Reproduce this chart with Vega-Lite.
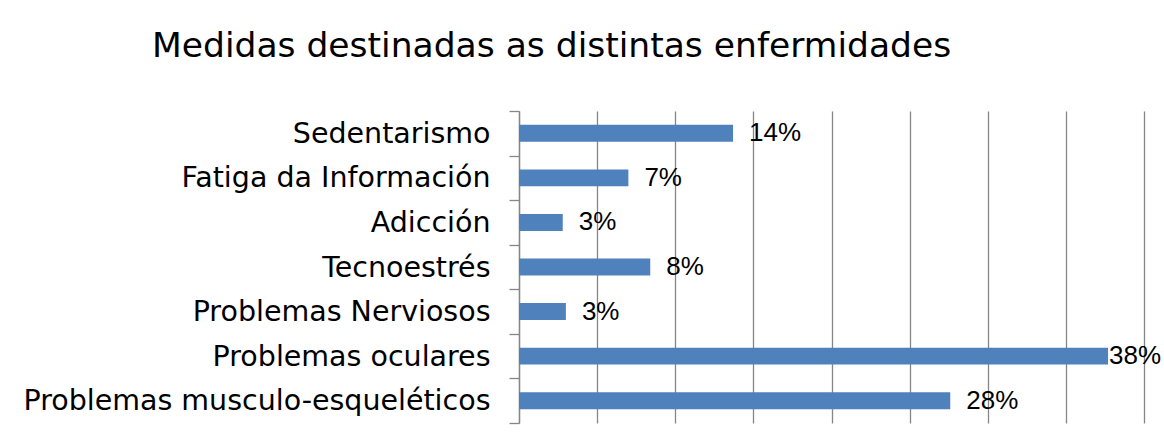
{
  "$schema": "https://vega.github.io/schema/vega-lite/v6.json",
  "autosize": "none",
  "width": 625,
  "height": 312,
  "padding": {"left": 519, "top": 111, "right": 20, "bottom": 20},
  "background": "white",
  "title": {
    "text": "Medidas destinadas as distintas enfermidades",
    "font": "DejaVu Sans",
    "fontSize": 34.5,
    "fontWeight": "normal",
    "color": "black",
    "anchor": "start",
    "frame": "group",
    "dx": -367,
    "offset": 33
  },
  "data": {
    "values": [
      {"medida": "Sedentarismo", "valor": 0.137},
      {"medida": "Fatiga da Información", "valor": 0.07},
      {"medida": "Adicción", "valor": 0.028},
      {"medida": "Tecnoestrés", "valor": 0.084},
      {"medida": "Problemas Nerviosos", "valor": 0.03},
      {"medida": "Problemas oculares", "valor": 0.377},
      {"medida": "Problemas musculo-esqueléticos", "valor": 0.276}
    ]
  },
  "encoding": {
    "y": {
      "field": "medida",
      "type": "nominal",
      "sort": null,
      "title": null,
      "scale": {"paddingInner": 0, "paddingOuter": 0},
      "axis": {
        "tickBand": "extent",
        "tickSize": 10,
        "tickWidth": 1.3,
        "tickColor": "#868686",
        "domainColor": "#868686",
        "domainWidth": 1.3,
        "labelFont": "DejaVu Sans",
        "labelFontSize": 28.5,
        "labelColor": "black",
        "labelPadding": 19,
        "labelLimit": 600,
        "grid": false
      }
    },
    "x": {
      "field": "valor",
      "type": "quantitative",
      "title": null,
      "scale": {"domain": [0, 0.4], "nice": false},
      "axis": {
        "values": [0, 0.05, 0.1, 0.15, 0.2, 0.25, 0.3, 0.35, 0.4],
        "labels": false,
        "ticks": false,
        "domain": false,
        "grid": true,
        "gridColor": "#868686",
        "gridWidth": 1.3
      }
    }
  },
  "layer": [
    {"mark": {"type": "bar", "color": "#4F81BD", "height": {"band": 0.38}}},
    {
      "transform": [{"filter": "datum.valor < 0.35"}],
      "mark": {"type": "text", "align": "left", "baseline": "middle", "dx": 16, "font": "Liberation Sans", "fontSize": 26, "color": "black"},
      "encoding": {"text": {"field": "valor", "format": ".0%"}}
    },
    {
      "transform": [{"filter": "datum.valor >= 0.35"}],
      "mark": {"type": "text", "align": "left", "baseline": "middle", "dx": 1, "font": "Liberation Sans", "fontSize": 26, "color": "black"},
      "encoding": {"text": {"field": "valor", "format": ".0%"}}
    }
  ],
  "config": {"view": {"stroke": null}}
}
